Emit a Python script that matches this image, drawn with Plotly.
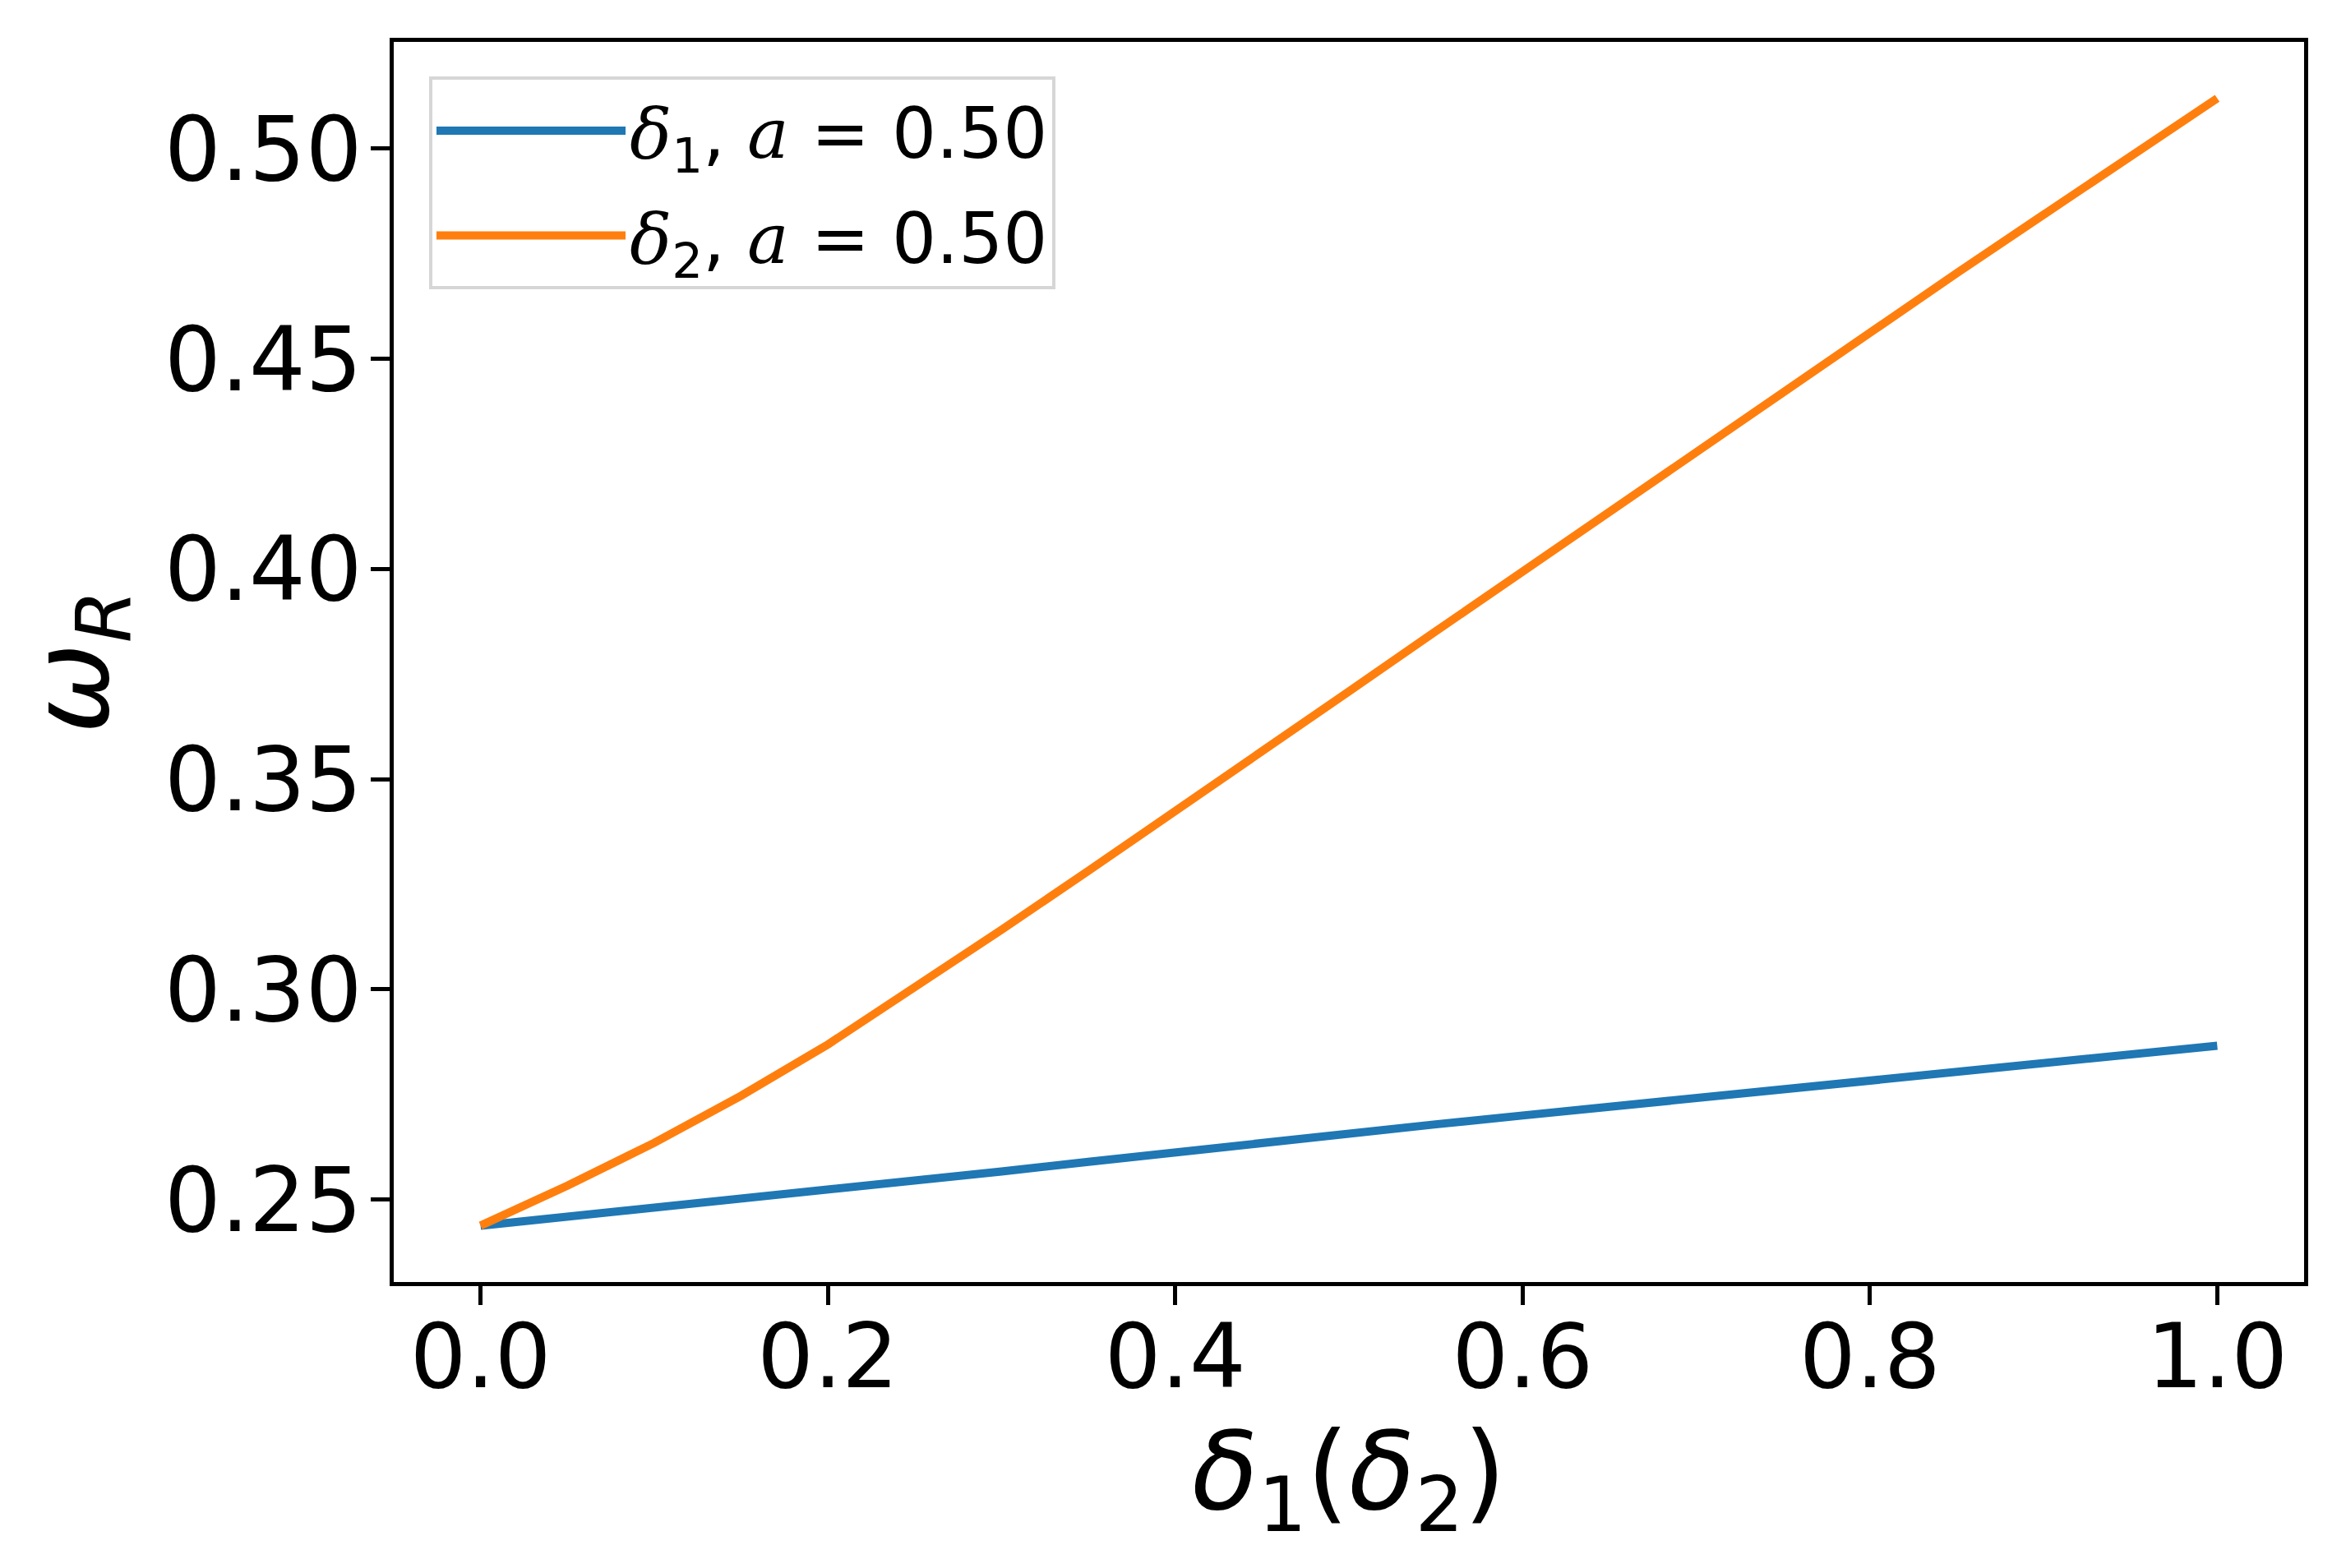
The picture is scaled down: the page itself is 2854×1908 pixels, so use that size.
import plotly.graph_objects as go

# delta values (x axis), shared by both curves
delta = [0.00, 0.05, 0.10, 0.15, 0.20, 0.25, 0.30, 0.35, 0.40, 0.45, 0.50,
         0.55, 0.60, 0.65, 0.70, 0.75, 0.80, 0.85, 0.90, 0.95, 1.00]

# omega_R when varying delta_1 (a = 0.50)
omega_d1 = [0.2438, 0.2459, 0.2481, 0.2502, 0.2524, 0.2545, 0.2567, 0.2590,
            0.2613, 0.2636, 0.2658, 0.2679, 0.2700, 0.2721, 0.2742, 0.2763,
            0.2784, 0.2804, 0.2825, 0.2845, 0.2866]

# omega_R when varying delta_2 (a = 0.50)
omega_d2 = [0.2438, 0.2533, 0.2635, 0.2747, 0.2869, 0.3003, 0.3142, 0.3282,
            0.3423, 0.3566, 0.3709, 0.3852, 0.3994, 0.4138, 0.4281, 0.4423,
            0.4564, 0.4704, 0.4843, 0.4982, 0.5120]

_SERIF_I = "<span style='font-family:DejaVu Serif'><i>{}</i></span>"
labels = [
    _SERIF_I.format("δ") + "<sub>1</sub>, " + _SERIF_I.format("a") + " = 0.50",
    _SERIF_I.format("δ") + "<sub>2</sub>, " + _SERIF_I.format("a") + " = 0.50",
]

x_ticks = [0.0, 0.2, 0.4, 0.6, 0.8, 1.0]
y_ticks = [0.25, 0.30, 0.35, 0.40, 0.45, 0.50]

_BLUE = "#1f77b4"
_ORANGE = "#ff7f0e"
_FONT = "DejaVu Sans"

fig = go.Figure()
series = [(omega_d1, labels[0], _BLUE), (omega_d2, labels[1], _ORANGE)]
for i, (y, name, color) in enumerate(series):
    fig.add_trace(
        go.Scatter(
            x=delta,
            y=y,
            name=name,
            legendgroup=f"g{i}",
            mode="lines",
            line={"color": color, "width": 10},
        )
    )

# matplotlib-style 5% padding around the data
xmin, xmax = min(delta), max(delta)
ymin = min(omega_d1 + omega_d2)
ymax = max(omega_d1 + omega_d2)
xpad = 0.05 * (xmax - xmin)
ypad = 0.05 * (ymax - ymin)

axis_common = {
    "showgrid": False,
    "zeroline": False,
    "showline": True,
    "linecolor": "black",
    "linewidth": 5,
    "mirror": True,
    "ticks": "outside",
    "ticklen": 23,
    "tickwidth": 5,
    "tickcolor": "black",
    "tickfont": {"family": _FONT, "size": 108, "color": "black"},
}

# the page body has an 8px margin, so the figure is sized to fit inside it
fig.update_layout(
    width=2838,
    height=1892,
    paper_bgcolor="white",
    plot_bgcolor="white",
    font={"family": _FONT, "color": "black"},
    margin={"l": 471, "r": 43, "t": 43, "b": 340},
    xaxis={
        **axis_common,
        "range": [xmin - xpad, xmax + xpad],
        "tickvals": x_ticks,
        "tickformat": ".1f",
        "ticklabelstandoff": -30,
        "title": {
            "text": "<i>δ</i><sub>1</sub>(<i>δ</i><sub>2</sub>)",
            "font": {"family": _FONT, "size": 132},
            "standoff": 30,
        },
    },
    yaxis={
        **axis_common,
        "range": [ymin - ypad, ymax + ypad],
        "tickvals": y_ticks,
        "tickformat": ".2f",
        "ticklabelstandoff": -11,
        "title": {
            "text": "<i>ω<sub>R</sub></i>",
            "font": {"family": _FONT, "size": 132},
            "standoff": 30,
        },
    },
    legend={
        "x": 0.0185,
        "y": 0.972,
        "xanchor": "left",
        "yanchor": "top",
        "bgcolor": "rgba(255,255,255,0.8)",
        "bordercolor": "#d6d6d6",
        "borderwidth": 4,
        "font": {"family": _FONT, "size": 85, "color": "black"},
        "itemwidth": 230,
        "tracegroupgap": 14,
    },
    showlegend=True,
)

fig.write_html("out.html")
